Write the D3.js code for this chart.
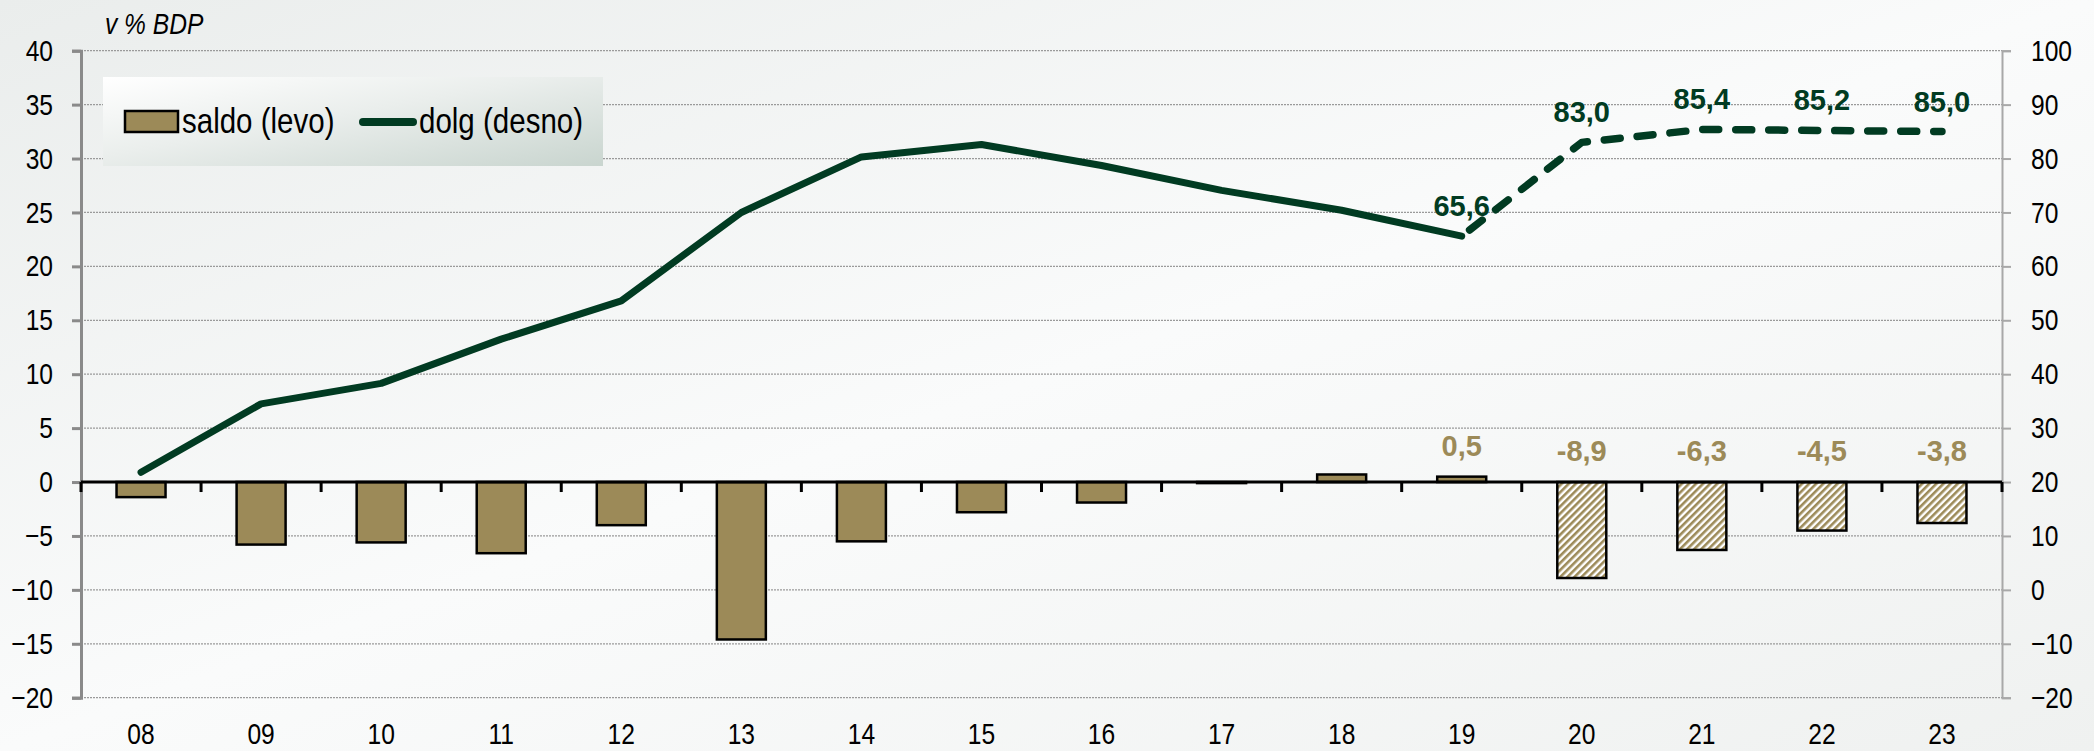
<!DOCTYPE html>
<html lang="sl">
<head>
<meta charset="UTF-8">
<title>saldo in dolg</title>
<script src="https://cdn.jsdelivr.net/npm/d3@7"></script>
<style>
html, body { margin: 0; padding: 0; background: #f3f5f4; }
svg { display: block; }
text { font-family: "Liberation Sans", Arial, sans-serif; }
.lbl { font-weight: bold; }
</style>
</head>
<body>
<svg id="chart" width="2094" height="751"></svg>
<script>
// data
var years = ['08','09','10','11','12','13','14','15','16','17','18','19','20','21','22','23'];
var saldo = [-1.4, -5.8, -5.6, -6.6, -4.0, -14.6, -5.5, -2.8, -1.9, -0.1, 0.7, 0.5, -8.9, -6.3, -4.5, -3.8];
var dolg  = [21.8, 34.5, 38.3, 46.5, 53.6, 70.0, 80.3, 82.6, 78.7, 74.1, 70.4, 65.6, 83.0, 85.4, 85.2, 85.0];
var leftTicks  = [-20, -15, -10, -5, 0, 5, 10, 15, 20, 25, 30, 35, 40];
var rightTicks = [-20, -10, 0, 10, 20, 30, 40, 50, 60, 70, 80, 90, 100];
var firstForecast = 12;   // '20' onwards is projection
var firstLabel = 11;      // labels from '19'

var khaki = '#9c8a58', green = '#013b22';
var NARROW = 0.82;   // no Arial Narrow installed, squeeze Liberation Sans

// squeeze text horizontally around its own x position
function narrow(sel) {
  sel.each(function () {
    var t = d3.select(this);
    var xv = +(t.attr('x') || 0);
    t.attr('x', xv / NARROW).attr('transform', 'scale(' + NARROW + ',1)');
  });
}

var svg = d3.select('#chart');
var defs = svg.append('defs');

// background gradient
var bg = defs.append('linearGradient').attr('id', 'bg')
  .attr('x1', '0%').attr('y1', '0%').attr('x2', '100%').attr('y2', '100%');
bg.append('stop').attr('offset', '0%').attr('stop-color', '#eaedec');
bg.append('stop').attr('offset', '50%').attr('stop-color', '#fafbfb');
bg.append('stop').attr('offset', '100%').attr('stop-color', '#eff1f0');

var lg = defs.append('linearGradient').attr('id', 'legbg')
  .attr('x1', '0%').attr('y1', '0%').attr('x2', '100%').attr('y2', '100%');
lg.append('stop').attr('offset', '0%').attr('stop-color', '#ffffff');
lg.append('stop').attr('offset', '45%').attr('stop-color', '#eaeeec');
lg.append('stop').attr('offset', '100%').attr('stop-color', '#c9d5cf');

var hatch = defs.append('pattern').attr('id', 'hatch')
  .attr('patternUnits', 'userSpaceOnUse').attr('width', 5).attr('height', 5)
  .attr('patternTransform', 'rotate(45)');
hatch.append('rect').attr('width', 5).attr('height', 5).attr('fill', '#ffffff');
hatch.append('line').attr('x1', 1.3).attr('y1', 0).attr('x2', 1.3).attr('y2', 5)
  .attr('stroke', khaki).attr('stroke-width', 2.6);

svg.append('rect').attr('width', 2094).attr('height', 751).attr('fill', 'url(#bg)');

// scales
var x = d3.scaleBand().domain(years).range([81, 2002]);
var yL = d3.scaleLinear().domain([-20, 40]).range([697.7, 50.7]);
var yR = d3.scaleLinear().domain([-20, 100]).range([697.7, 50.7]);

// gridlines
svg.append('g').selectAll('line')
  .data(leftTicks.filter(function (d) { return d !== 0; }))
  .enter().append('line')
  .attr('x1', 81).attr('x2', 2002)
  .attr('y1', function (d) { return yL(d); }).attr('y2', function (d) { return yL(d); })
  .attr('stroke', '#9a9a9a').attr('stroke-width', 1.2).attr('stroke-dasharray', '2,1');

// left axis
var axL = svg.append('g').attr('transform', 'translate(81,0)')
  .call(d3.axisLeft(yL).tickValues(leftTicks).tickSize(9).tickPadding(19));
axL.select('.domain').attr('stroke', '#8a8a8a').attr('stroke-width', 3);
axL.selectAll('.tick line').attr('stroke', '#8a8a8a').attr('stroke-width', 3);
axL.selectAll('.tick text').attr('font-size', 30).attr('fill', '#000').call(narrow);
axL.attr('font-family', null);

// right axis
var axR = svg.append('g').attr('transform', 'translate(2002,0)')
  .call(d3.axisRight(yR).tickValues(rightTicks).tickSize(9).tickPadding(20));
axR.select('.domain').attr('stroke', '#a8a8a8').attr('stroke-width', 2);
axR.selectAll('.tick line').attr('stroke', '#a8a8a8').attr('stroke-width', 2);
axR.selectAll('.tick text').attr('font-size', 30).attr('fill', '#000').call(narrow);
axR.attr('font-family', null);

// category labels at bottom
var axB = svg.append('g').attr('transform', 'translate(0,713)')
  .call(d3.axisBottom(x).tickSize(0).tickPadding(10));
axB.select('.domain').remove();
axB.selectAll('.tick text').attr('font-size', 30).attr('fill', '#000').call(narrow);
axB.attr('font-family', null);

// bars
var bw = 49;
svg.append('g').selectAll('rect')
  .data(saldo)
  .enter().append('rect')
  .attr('x', function (d, i) { return x(years[i]) + x.bandwidth() / 2 - bw / 2; })
  .attr('y', function (d) { return yL(Math.max(0, d)); })
  .attr('width', bw)
  .attr('height', function (d) { return Math.abs(yL(d) - yL(0)); })
  .attr('fill', function (d, i) { return i >= firstForecast ? 'url(#hatch)' : khaki; })
  .attr('stroke', '#000').attr('stroke-width', 2.5);

// zero axis with ticks between categories
var y0 = yL(0);
svg.append('line').attr('x1', 81).attr('x2', 2002).attr('y1', y0).attr('y2', y0)
  .attr('stroke', '#000').attr('stroke-width', 3);
var bounds = years.map(function (d) { return x(d); }).concat([x.range()[1]]);
svg.append('g').selectAll('line').data(bounds).enter().append('line')
  .attr('x1', function (d) { return d; }).attr('x2', function (d) { return d; })
  .attr('y1', y0).attr('y2', y0 + 10)
  .attr('stroke', '#000').attr('stroke-width', 3);

// debt line
var cx = function (i) { return x(years[i]) + x.bandwidth() / 2; };
var line = d3.line().x(function (d) { return cx(d.i); }).y(function (d) { return yR(d.v); });
var pts = dolg.map(function (v, i) { return { i: i, v: v }; });
svg.append('path').datum(pts.slice(0, firstForecast))
  .attr('d', line).attr('fill', 'none').attr('stroke', green)
  .attr('stroke-width', 7).attr('stroke-linejoin', 'round').attr('stroke-linecap', 'round');
svg.append('path').datum(pts.slice(firstForecast - 1))
  .attr('d', line).attr('fill', 'none').attr('stroke', green)
  .attr('stroke-width', 7.5).attr('stroke-linejoin', 'round').attr('stroke-linecap', 'round')
  .attr('stroke-dasharray', '16,17').attr('stroke-dashoffset', -10);

// labels
function fmt(v) { return v.toFixed(1).replace('.', ','); }
svg.append('g').selectAll('text')
  .data(pts.slice(firstLabel))
  .enter().append('text').attr('class', 'lbl')
  .attr('x', function (d) { return cx(d.i); })
  .attr('y', function (d) { return yR(d.v) - 20; })
  .attr('text-anchor', 'middle').attr('font-size', 29).attr('fill', green)
  .text(function (d) { return fmt(d.v); });

svg.append('g').selectAll('text')
  .data(saldo.map(function (v, i) { return { i: i, v: v }; }).slice(firstLabel))
  .enter().append('text').attr('class', 'lbl')
  .attr('x', function (d) { return cx(d.i); })
  .attr('y', function (d) { return yL(Math.max(0, d.v)) - 21; })
  .attr('text-anchor', 'middle').attr('font-size', 29).attr('fill', khaki)
  .text(function (d) { return fmt(d.v); });

// unit
svg.append('text').attr('x', 105).attr('y', 34)
  .attr('font-size', 30).attr('font-style', 'italic').attr('fill', '#000')
  .text('v % BDP').call(narrow);

// legend
var leg = svg.append('g');
leg.append('rect').attr('x', 103).attr('y', 77).attr('width', 500).attr('height', 89)
  .attr('fill', 'url(#legbg)');
leg.append('rect').attr('x', 125).attr('y', 111).attr('width', 53).attr('height', 21)
  .attr('fill', khaki).attr('stroke', '#000').attr('stroke-width', 2.5);
leg.append('text').attr('x', 182).attr('y', 133)
  .attr('font-size', 36).attr('fill', '#000').text('saldo (levo)').call(narrow);
leg.append('line').attr('x1', 363).attr('x2', 413).attr('y1', 122).attr('y2', 122)
  .attr('stroke', green).attr('stroke-width', 8).attr('stroke-linecap', 'round');
leg.append('text').attr('x', 419).attr('y', 133)
  .attr('font-size', 36).attr('fill', '#000').text('dolg (desno)').call(narrow);
</script>
</body>
</html>
